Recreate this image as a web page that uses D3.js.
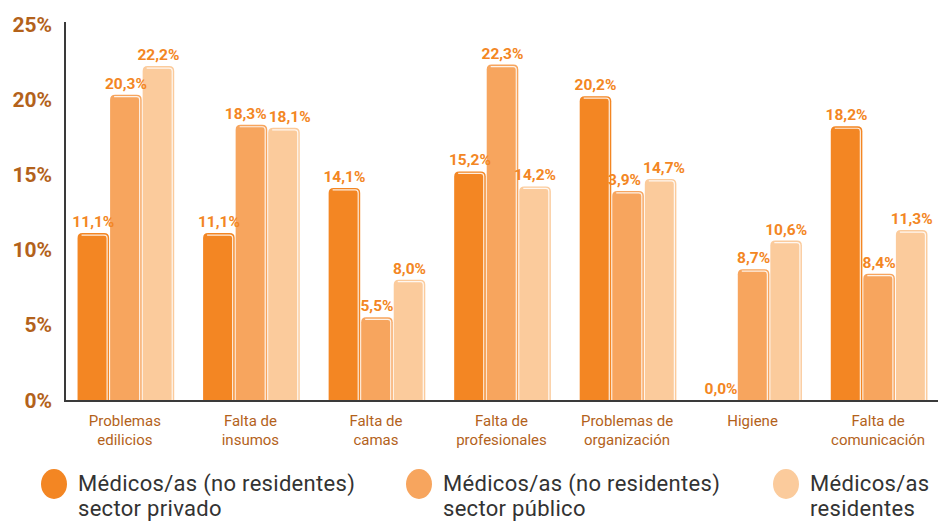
<!DOCTYPE html>
<html>
<head>
  <meta charset='utf-8'>
  <title>Problemas por grupo</title>
  <style>
    body { margin: 0; background: #fff; font-family: 'Roboto', sans-serif; }
    svg { display: block; }
  </style>
  <script src='https://d3js.org/d3.v7.min.js'></script>
</head>
<body>
<div id="chart"></div>
<script>
// ******* Data *******
const categories = [
  ["Problemas", "edilicios"],
  ["Falta de", "insumos"],
  ["Falta de", "camas"],
  ["Falta de", "profesionales"],
  ["Problemas de", "organización"],
  ["Higiene"],
  ["Falta de", "comunicación"]
];
const privado    = [11.1, 11.1, 14.1, 15.2, 20.2, 0.0, 18.2];
const publico    = [20.3, 18.3, 5.5, 22.3, 13.9, 8.7, 8.4];
const residentes = [22.2, 18.1, 8.0, 14.2, 14.7, 10.6, 11.3];
// printed labels (the chart prints "3,9%" on the 13.9 bar)
const privadoLabels    = ["11,1%", "11,1%", "14,1%", "15,2%", "20,2%", "0,0%", "18,2%"];
const publicoLabels    = ["20,3%", "18,3%", "5,5%", "22,3%", "3,9%", "8,7%", "8,4%"];
const residentesLabels = ["22,2%", "18,1%", "8,0%", "14,2%", "14,7%", "10,6%", "11,3%"];
const seriesNames = [
  ["Médicos/as (no residentes)", "sector privado"],
  ["Médicos/as (no residentes)", "sector público"],
  ["Médicos/as", "residentes"]
];
const yTicks = [0, 5, 10, 15, 20, 25];

const colors = ["#f38623", "#f7a55e", "#fbcb9c"];

// ******* Layout *******
const width = 938, height = 521;
const svg = d3.select("#chart").append("svg")
    .attr("width", width)
    .attr("height", height);

const x = d3.scaleBand()
    .domain(d3.range(categories.length))
    .range([65, 940])
    .paddingInner(0.23)
    .paddingOuter(0.1);

const xs = d3.scaleBand()
    .domain([0, 1, 2])
    .range([0, x.bandwidth()])
    .paddingInner(0.03);

const y = d3.scaleLinear()
    .domain([0, 25])
    .range([400, 24]);

const series = [
  {values: privado, labels: privadoLabels},
  {values: publico, labels: publicoLabels},
  {values: residentes, labels: residentesLabels}
];

// ******* Y tick labels *******
svg.selectAll("text.ytick")
    .data(yTicks)
    .enter().append("text")
    .attr("class", "ytick")
    .attr("x", 52)
    .attr("y", d => y(d))
    .attr("dy", "0.36em")
    .attr("text-anchor", "end")
    .attr("font-size", 21)
    .attr("font-weight", 700)
    .attr("fill", "#b3621b")
    .text(d => d + "%");

// ******* Bars *******
function barPath(x0, y0, w, h, r) {
  r = Math.min(r, h);
  return "M" + x0 + "," + (y0 + h) +
    "V" + (y0 + r) +
    "Q" + x0 + "," + y0 + " " + (x0 + r) + "," + y0 +
    "H" + (x0 + w - r) +
    "Q" + (x0 + w) + "," + y0 + " " + (x0 + w) + "," + (y0 + r) +
    "V" + (y0 + h) + "Z";
}
function shinePath(x0, y0, w, h) {
  const r = 3;
  return "M" + (x0 + 4) + "," + (y0 + 2) +
    "H" + (x0 + w - 2 - r) +
    "Q" + (x0 + w - 2) + "," + (y0 + 2) + " " + (x0 + w - 2) + "," + (y0 + 2 + r) +
    "V" + (y0 + h);
}

const barLayer = svg.append("g");
const labelLayer = svg.append("g");
const labelNodes = d3.range(categories.length).map(() => []);

series.forEach(function(s, si) {
  const data = s.values.map((v, i) => ({v: v, i: i, label: s.labels[i]}));
  const bars = barLayer.append("g").selectAll("g")
      .data(data)
      .enter().append("g");

  bars.filter(d => d.v > 0).append("path")
      .attr("d", d => barPath(x(d.i) + xs(si), y(d.v), xs.bandwidth(), y(0) - y(d.v), 5))
      .attr("fill", colors[si]);

  bars.filter(d => d.v > 0).append("path")
      .attr("d", d => shinePath(x(d.i) + xs(si), y(d.v), xs.bandwidth(), y(0) - y(d.v)))
      .attr("fill", "none")
      .attr("stroke", "#fff")
      .attr("stroke-opacity", 0.85)
      .attr("stroke-width", 1.2);

  labelLayer.append("g").selectAll("text")
      .data(data)
      .enter().append("text")
      .attr("x", d => x(d.i) + xs(si) + xs.bandwidth() / 2)
      .attr("y", d => y(d.v) - 6)
      .attr("text-anchor", "middle")
      .attr("font-size", 15.5)
      .attr("font-weight", 700)
      .attr("fill", "#f38623")
      .text(d => d.label)
      .each(function(d) { labelNodes[d.i][si] = this; });
});

// push apart neighbouring value labels that collide
labelNodes.forEach(function(nodes) {
  for (let k = 1; k < nodes.length; k++) {
    const a = nodes[k - 1], b = nodes[k];
    const ba = a.getBBox(), bb = b.getBBox();
    const vOverlap = ba.y < bb.y + bb.height - 3 && bb.y < ba.y + ba.height - 3;
    const hOverlap = ba.x + ba.width + 2 - bb.x;
    if (vOverlap && hOverlap > 0) {
      d3.select(a).attr("x", +a.getAttribute("x") - hOverlap / 2);
      d3.select(b).attr("x", +b.getAttribute("x") + hOverlap / 2);
    }
  }
});

// ******* Axes lines *******
svg.append("line")
    .attr("x1", 65).attr("x2", 65)
    .attr("y1", 22).attr("y2", 401)
    .attr("stroke", "#3a3a3a").attr("stroke-width", 2);
svg.append("line")
    .attr("x1", 64).attr("x2", 938)
    .attr("y1", 401).attr("y2", 401)
    .attr("stroke", "#3a3a3a").attr("stroke-width", 2);

// ******* Category labels *******
const cat = svg.selectAll("text.cat")
    .data(categories)
    .enter().append("text")
    .attr("class", "cat")
    .attr("x", (d, i) => x(i) + x.bandwidth() / 2 - 1)
    .attr("y", 426)
    .attr("text-anchor", "middle")
    .attr("font-size", 15)
    .attr("fill", "#b3621b");
cat.selectAll("tspan")
    .data(d => d)
    .enter().append("tspan")
    .attr("x", function() { return d3.select(this.parentNode).attr("x"); })
    .attr("dy", (d, i) => i === 0 ? 0 : 19)
    .text(d => d);

// ******* Legend *******
const legendX = [54, 419, 786];
const legend = svg.selectAll("g.legend")
    .data(seriesNames)
    .enter().append("g")
    .attr("class", "legend")
    .attr("transform", (d, i) => "translate(" + legendX[i] + ",484)");
legend.append("ellipse")
    .attr("rx", 13).attr("ry", 15)
    .attr("fill", (d, i) => colors[i]);
legend.append("text")
    .attr("x", 24)
    .attr("y", 7)
    .attr("font-size", 22)
    .attr("letter-spacing", 0.3)
    .attr("fill", "#333")
    .selectAll("tspan")
    .data(d => d)
    .enter().append("tspan")
    .attr("x", 24)
    .attr("dy", (d, i) => i === 0 ? 0 : 25)
    .text(d => d);
</script>
</body>
</html>
